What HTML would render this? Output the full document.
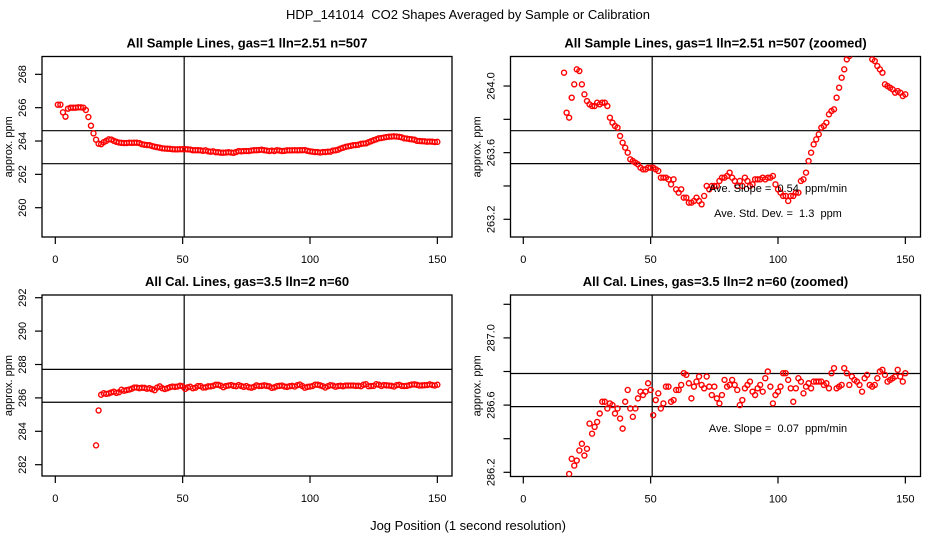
<!DOCTYPE html>
<html><head><meta charset="utf-8"><style>
html,body{margin:0;padding:0;background:#fff;width:936px;height:540px;overflow:hidden}
svg{display:block;font-family:"Liberation Sans",sans-serif}
text{white-space:pre}
</style></head><body>
<svg id="c" width="936" height="540" viewBox="0 0 936 540">
<rect width="936" height="540" fill="#fff"/>
<text x="468" y="19" text-anchor="middle" font-size="13" xml:space="preserve">HDP_141014  CO2 Shapes Averaged by Sample or Calibration</text>
<text x="468" y="530" text-anchor="middle" font-size="13">Jog Position (1 second resolution)</text>
</svg>
<script>
// Sample data: index 1..150
const sampleX = [];
for (let i = 1; i <= 150; i++) sampleX.push(i);
const sampleY = [266.18,266.18,265.72,265.46,265.94,266.0,266.0,266.0,266.02,266.02,266.0,265.86,265.44,264.92,264.46,
264.08,263.84,263.81,263.93,264.01,264.10,264.09,264.01,263.95,263.91,263.89,263.88,263.88,263.90,263.89,
263.90,263.90,263.88,263.81,263.78,263.76,263.75,263.70,263.66,263.63,263.60,263.56,263.55,263.54,263.53,
263.51,263.50,263.50,263.51,263.51,263.51,263.50,263.49,263.45,263.45,263.45,263.44,263.41,263.44,263.38,
263.36,263.38,263.33,263.33,263.30,263.30,263.31,263.33,263.31,263.29,263.34,263.40,263.38,263.40,263.40,
263.40,263.43,263.45,263.45,263.46,263.48,263.45,263.43,263.40,263.43,263.40,263.45,263.43,263.40,263.41,
263.44,263.44,263.44,263.45,263.44,263.45,263.45,263.46,263.41,263.38,263.36,263.34,263.34,263.31,263.34,
263.34,263.36,263.36,263.43,263.44,263.48,263.55,263.60,263.65,263.68,263.71,263.75,263.76,263.78,263.83,
263.85,263.86,263.93,263.99,264.05,264.10,264.16,264.18,264.21,264.24,264.26,264.27,264.28,264.27,264.25,
264.22,264.16,264.15,264.12,264.10,264.08,264.01,264.0,263.99,263.98,263.96,263.97,263.96,263.94,263.95];
// Calibration data: index 16..150
const calX = [];
for (let i = 16; i <= 150; i++) calX.push(i);
const calY = [283.16,285.25,286.19,286.28,286.24,286.27,286.33,286.37,286.30,286.34,286.49,286.43,286.47,286.50,286.55,
286.62,286.62,286.58,286.61,286.60,286.55,286.58,286.52,286.46,286.62,286.69,286.58,286.53,286.58,286.64,
286.68,286.66,286.68,286.73,286.69,286.54,286.63,286.67,286.58,286.61,286.71,286.71,286.62,286.63,286.69,
286.69,286.72,286.79,286.78,286.73,286.64,286.71,286.74,286.77,286.72,286.70,286.77,286.71,286.66,286.71,
286.64,286.61,286.66,286.75,286.71,286.72,286.75,286.72,286.69,286.60,286.63,286.70,286.72,286.74,286.68,
286.66,286.70,286.72,286.68,286.76,286.80,286.71,286.61,286.66,286.68,286.71,286.79,286.79,286.75,286.70,
286.62,286.70,286.76,286.74,286.67,286.71,286.73,286.70,286.74,286.74,286.74,286.74,286.72,286.73,286.70,
286.79,286.82,286.70,286.71,286.72,286.82,286.79,286.72,286.77,286.75,286.74,286.72,286.68,286.76,286.78,
286.72,286.71,286.72,286.76,286.80,286.81,286.78,286.74,286.75,286.76,286.77,286.81,286.77,286.74,286.79];
const xTicks = [0, 50, 100, 150];
const p1Ticks = [260, 262, 264, 266, 268];
const p2Ticks = [263.2, 263.4, 263.6, 263.8, 264.0];
const p2Labels = [263.2, 263.6, 264.0];
const p3Ticks = [282, 284, 286, 288, 290, 292];
const p4Ticks = [286.2, 286.4, 286.6, 286.8, 287.0, 287.2];
const p4Labels = [286.2, 286.6, 287.0];
const vLine = [50.6];
const p1HLines = [264.62, 262.64];
const p2HLines = [263.732, 263.534];
const p3HLines = [287.71, 285.74];
const p4HLines = [286.788, 286.591];

const NS = "http://www.w3.org/2000/svg";
const svg = document.getElementById('c');
function mk(tag, attrs, parent) {
  const e = document.createElementNS(NS, tag);
  for (const k in attrs) e.setAttribute(k, attrs[k]);
  (parent || svg).appendChild(e);
  return e;
}
function panel(o) {
  const g = mk('g', {});
  
  
  const xs = v => o.x0 + v * 2.547;
  const ys = v => o.yRef - (v - o.vRef) * o.ppx;
  const cid = 'clip-' + o.name;
  const cp = mk('clipPath', {id: cid}, g);
  mk('rect', {x: o.L, y: o.T, width: o.R - o.L, height: o.B - o.T}, cp);
  const t = mk('text', {x: (o.L + o.R) / 2, y: o.T - 9, 'text-anchor': 'middle', 'font-size': 13, 'font-weight': 'bold'}, g);
  t.textContent = o.title;
  
  
  const box = mk('rect', {x: o.L, y: o.T, width: o.R - o.L, height: o.B - o.T, fill: 'none', stroke: '#000', 'stroke-width': 1.3}, g);
  
  
  xTicks.forEach(v => {
    const X = xs(v);
    mk('line', {x1: X, x2: X, y1: o.B, y2: o.B + 7, stroke: '#000', 'stroke-width': 1.2}, g);
    const tl = mk('text', {x: X, y: o.B + 26, 'text-anchor': 'middle', 'font-size': 11}, g);
    tl.textContent = v;
    
    
  });
  o.yTicks.forEach(v => {
    const Y = ys(v);
    mk('line', {x1: o.L - 7, x2: o.L, y1: Y, y2: Y, stroke: '#000', 'stroke-width': 1.2}, g);
  });
  o.yLabels.forEach(v => {
    const Y = ys(v);
    const lx = o.L - 16;
    const tl = mk('text', {x: lx, y: Y, 'text-anchor': 'middle', 'font-size': 11, transform: `rotate(-90 ${lx} ${Y})`}, g);
    tl.textContent = o.fmt(v);
    
    
  });
  const ly = (o.T + o.B) / 2, lx = o.L - 30;
  const yt = mk('text', {x: lx, y: ly, 'text-anchor': 'middle', 'font-size': 11, transform: `rotate(-90 ${lx} ${ly})`}, g);
  yt.textContent = 'approx. ppm';
  
  
  const inner = mk('g', {'clip-path': `url(#${cid})`}, g);
  vLine.forEach(v => {
    const l = mk('line', {x1: xs(v), x2: xs(v), y1: o.T, y2: o.B, stroke: '#000', 'stroke-width': 1.2}, inner);
    
    
  });
  o.hLines.forEach(v => {
    const l = mk('line', {x1: o.L, x2: o.R, y1: ys(v), y2: ys(v), stroke: '#000', 'stroke-width': 1.2}, inner);
    
    
  });
  o.xd.forEach((xv, i) => {
    const c = mk('circle', {cx: xs(xv), cy: ys(o.yd[i]), r: 2.5, fill: 'none', stroke: '#f00', 'stroke-width': 1.4}, inner);
    
    
  });
  (o.notes || []).forEach(n => {
    const tn = mk('text', {x: n[0], y: n[1], 'text-anchor': 'middle', 'font-size': 11}, g);
    tn.textContent = n[2];
    
    
  });
}
panel({name: 'sample-panel', title: 'All Sample Lines, gas=1 lln=2.51 n=507', L: 42, R: 452, T: 56.5, B: 237,
  x0: 55.3, yRef: 207.7, vRef: 260, ppx: 16.67, yTicks: p1Ticks, yLabels: p1Ticks, fmt: v => v,
  hLines: p1HLines, xd: sampleX, yd: sampleY});
panel({name: 'sample-zoomed-panel', title: 'All Sample Lines, gas=1 lln=2.51 n=507 (zoomed)', L: 510.5, R: 920.5, T: 56.5, B: 237,
  x0: 523.3, yRef: 219.3, vRef: 263.2, ppx: 166.6, yTicks: p2Ticks, yLabels: p2Labels, fmt: v => v.toFixed(1),
  hLines: p2HLines, xd: sampleX, yd: sampleY,
  notes: [[778, 192, 'Ave. Slope =  0.54  ppm/min'], [778, 217, 'Ave. Std. Dev. =  1.3  ppm']]});
panel({name: 'cal-panel', title: 'All Cal. Lines, gas=3.5 lln=2 n=60', L: 42, R: 452, T: 295, B: 476,
  x0: 55.3, yRef: 464.7, vRef: 282, ppx: 16.7, yTicks: p3Ticks, yLabels: p3Ticks, fmt: v => v,
  hLines: p3HLines, xd: calX, yd: calY});
panel({name: 'cal-zoomed-panel', title: 'All Cal. Lines, gas=3.5 lln=2 n=60 (zoomed)', L: 510.5, R: 920.5, T: 295, B: 476.5,
  x0: 523.3, yRef: 472.3, vRef: 286.2, ppx: 168, yTicks: p4Ticks, yLabels: p4Labels, fmt: v => v.toFixed(1),
  hLines: p4HLines, xd: calX, yd: calY,
  notes: [[778, 432, 'Ave. Slope =  0.07  ppm/min']]});
</script>
</body></html>
